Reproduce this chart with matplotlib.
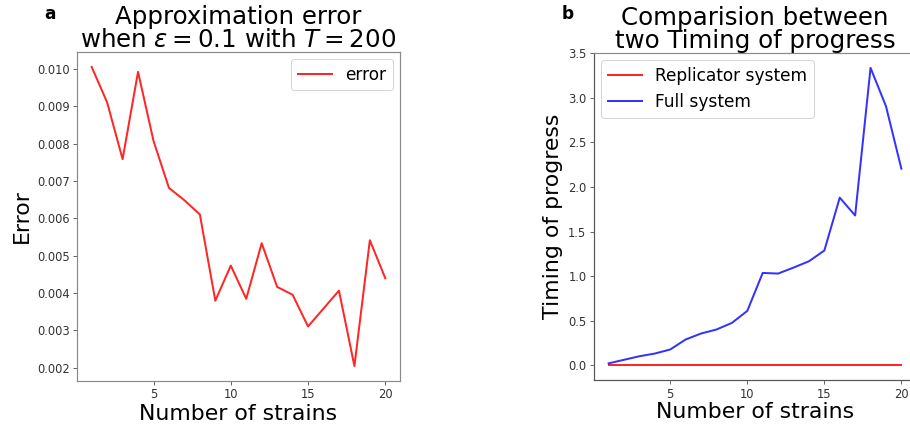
import matplotlib
matplotlib.use("Agg")
import matplotlib.pyplot as plt

strains = list(range(1, 21))
error_vals = [0.01005, 0.00910, 0.00758, 0.00992, 0.00807, 0.00681, 0.00648, 0.00610,
              0.00379, 0.00473, 0.00384, 0.00533, 0.00416, 0.00395, 0.00310, 0.00358,
              0.00406, 0.00204, 0.00541, 0.00439]
replicator_time = [0.0] * 20
full_time = [0.02, 0.06, 0.10, 0.13, 0.176, 0.288, 0.355, 0.40, 0.474, 0.609,
             1.035, 1.028, 1.095, 1.166, 1.286, 1.88, 1.68, 3.337, 2.907, 2.205]

DPI = 72
fig = plt.figure(figsize=(910 / DPI, 434 / DPI), dpi=DPI)

tick_color = "#333333"
spine_color = "#8a8a8a"

def style(ax, spine_col):
    for s in ax.spines.values():
        s.set_color(spine_col)
        s.set_linewidth(1.2)
    ax.tick_params(labelsize=11.5, colors="#444444", labelcolor=tick_color, length=4)

# Panel a
ax1 = fig.add_axes([77 / 910, 1 - 381 / 434, 323 / 910, 329 / 434])
ax1.plot(strains, error_vals, color="red", alpha=0.85, lw=2.0, label="error")
ax1.set_xticks([5, 10, 15, 20])
ax1.set_yticks([0.002, 0.003, 0.004, 0.005, 0.006, 0.007, 0.008, 0.009, 0.010])
ax1.set_yticklabels(["0.002", "0.003", "0.004", "0.005", "0.006", "0.007", "0.008", "0.009", "0.010"])
ax1.set_xlabel("Number of strains", fontsize=22, labelpad=2)
ax1.set_ylabel("Error", fontsize=22, labelpad=5)
ax1.set_title("Approximation error\nwhen $\\varepsilon = 0.1$ with $T = 200$", fontsize=24.5,
              linespacing=0.97, pad=1)
ax1.legend(loc="upper right", fontsize=17, handlelength=2, framealpha=0.8,
           borderaxespad=0.4)
style(ax1, spine_color)
fig.text(50 / 910, 1 - 14 / 434, "a", fontsize=17, fontweight="bold", ha="center", va="center")

# Panel b
ax2 = fig.add_axes([594 / 910, 1 - 380 / 434, 322 / 910, 327 / 434])
ax2.plot(strains, replicator_time, color="red", alpha=0.85, lw=2.0, label="Replicator system")
ax2.plot(strains, full_time, color="blue", alpha=0.8, lw=2.0, label="Full system")
ax2.set_xticks([5, 10, 15, 20])
ax2.set_yticks([0.0, 0.5, 1.0, 1.5, 2.0, 2.5, 3.0, 3.5])
ax2.set_xlabel("Number of strains", fontsize=22, labelpad=2)
ax2.set_ylabel("Timing of progress", fontsize=22, labelpad=5)
ax2.set_title("Comparision between\ntwo Timing of progress", fontsize=24.5,
              linespacing=0.97, pad=1)
ax2.legend(loc="upper left", fontsize=17, handlelength=2, framealpha=0.8,
           borderaxespad=0.4)
style(ax2, spine_color)
ax2.spines["left"].set_color("#555555")
ax2.spines["bottom"].set_color("#555555")
fig.text(568 / 910, 1 - 14 / 434, "b", fontsize=17, fontweight="bold", ha="center", va="center")

fig.savefig("out.png", dpi=DPI)
